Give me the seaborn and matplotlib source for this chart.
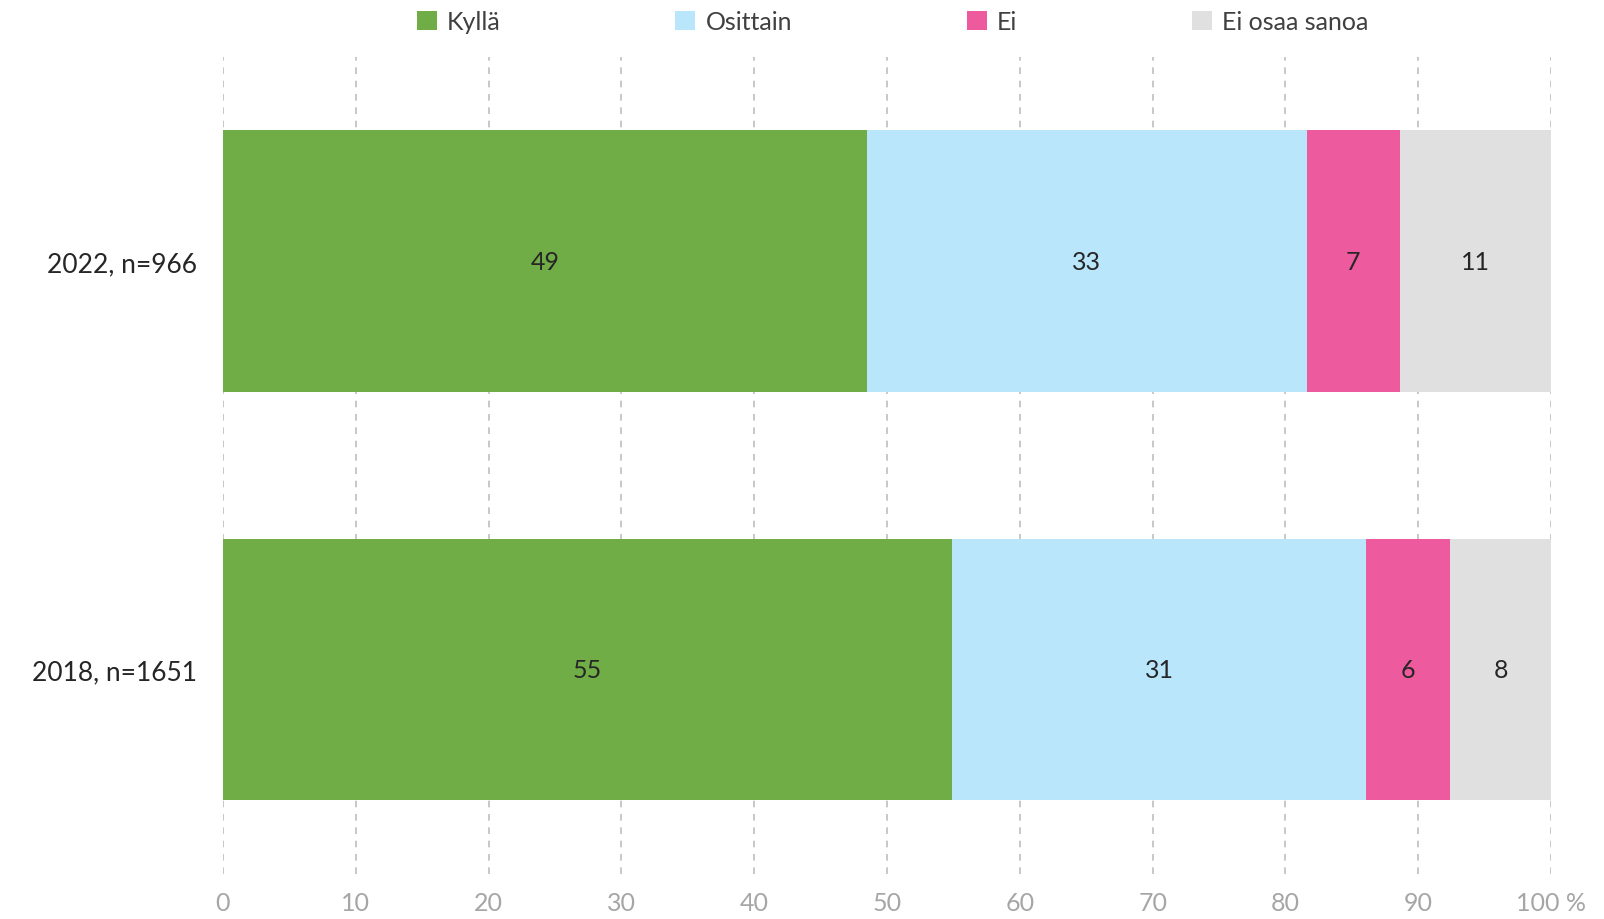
import numpy as np
import pandas as pd
import matplotlib
matplotlib.use('Agg')
import matplotlib.pyplot as plt
from matplotlib.patches import Patch
import seaborn as sns

# Data (percent)
years = ['2022, n=966', '2018, n=1651']
categories = ['Kyllä', 'Osittain', 'Ei', 'Ei osaa sanoa']
kylla = [48.5, 54.9]
osittain = [33.1, 31.2]
ei = [7.0, 6.3]
eos = [11.4, 7.6]
labels_2022 = ['49', '33', '7', '11']
labels_2018 = ['55', '31', '6', '8']
colors = ['#70AD47', '#BAE6FB', '#EE5A9E', '#E0E0E0']

df = pd.DataFrame({'year': years, 'Kyllä': kylla, 'Osittain': osittain,
                   'Ei': ei, 'Ei osaa sanoa': eos})

sns.set_theme(style='white')
plt.rcParams['font.family'] = ['Lato', 'DejaVu Sans']

fig = plt.figure(figsize=(16.04, 9.2), dpi=100)
ax = fig.add_axes([0.139, 0.049, 0.828, 0.888])

# stacked bars: draw cumulative totals from widest to narrowest
cum = df[categories].cumsum(axis=1)
for i in range(len(categories) - 1, -1, -1):
    sns.barplot(x=cum[categories[i]], y=df['year'], orient='h', color=colors[i],
                width=0.64, saturation=1, linewidth=0, edgecolor='none', ax=ax, zorder=2)

# value labels in the middle of each segment
all_labels = [labels_2022, labels_2018]
for r in range(len(years)):
    vals = df.loc[r, categories].values.astype(float)
    starts = np.concatenate([[0], np.cumsum(vals)[:-1]])
    for j, v in enumerate(vals):
        ax.text(starts[j] + v / 2, r, all_labels[r][j], ha='center', va='center',
                fontsize=18, color='#262626', zorder=3)

ax.set_xlim(0, 100)
ax.set_ylim(1.5, -0.5)
ax.set_xticks(range(0, 101, 10))
ax.set_xticklabels([str(t) for t in range(0, 100, 10)] + ['100 %'])
ax.xaxis.grid(True, color='#BFBFBF', linestyle=(0, (4, 4)), linewidth=1.2, zorder=0)
ax.yaxis.grid(False)
for s in ax.spines.values():
    s.set_visible(False)
ax.tick_params(axis='x', colors='#A6A6A6', labelsize=18, length=0, pad=12)
ax.tick_params(axis='y', colors='#262626', labelsize=19, length=0, pad=19)
ax.set_xlabel('')
ax.set_ylabel('')

handles = [Patch(facecolor=c, edgecolor='none') for c in colors]
leg = fig.legend(handles, categories, loc='center', bbox_to_anchor=(0.5565, 0.975),
                 ncol=4, frameon=False, fontsize=18, handlelength=0.8, handleheight=0.8,
                 handletextpad=0.4, columnspacing=7.0)
for t in leg.get_texts():
    t.set_color('#404040')

fig.savefig('out.png', dpi=100)
